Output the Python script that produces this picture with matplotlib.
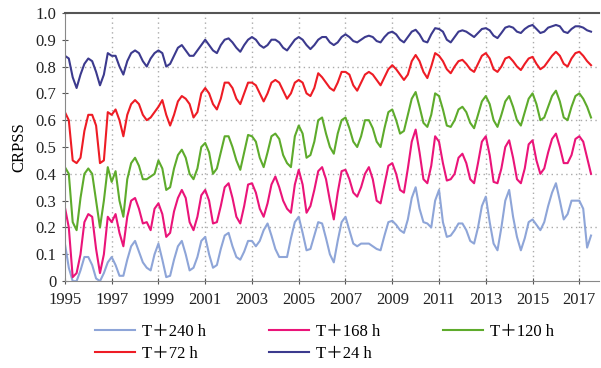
import matplotlib
matplotlib.use('Agg')
import matplotlib.pyplot as plt
import numpy as np
import pandas as pd
from matplotlib.ticker import FuncFormatter

# bimonthly values (Jan, Mar, May, Jul, Sep, Nov), 1995-01 .. 2017-07
t24 = [0.84, 0.83, 0.76, 0.72, 0.77, 0.81,
       0.83, 0.82, 0.78, 0.73, 0.77, 0.85,
       0.84, 0.84, 0.80, 0.77, 0.82, 0.85,
       0.86, 0.85, 0.82, 0.80, 0.83, 0.85,
       0.86, 0.85, 0.80, 0.81, 0.84, 0.87,
       0.88, 0.86, 0.84, 0.84, 0.86, 0.88,
       0.90, 0.88, 0.86, 0.85, 0.88, 0.90,
       0.905, 0.89, 0.87, 0.855, 0.88, 0.90,
       0.91, 0.90, 0.88, 0.87, 0.88, 0.90,
       0.90, 0.89, 0.87, 0.86, 0.88, 0.90,
       0.91, 0.90, 0.88, 0.865, 0.88, 0.90,
       0.91, 0.91, 0.89, 0.88, 0.89, 0.91,
       0.92, 0.91, 0.895, 0.89, 0.90, 0.91,
       0.915, 0.91, 0.895, 0.89, 0.91, 0.925,
       0.93, 0.92, 0.90, 0.89, 0.91, 0.93,
       0.937, 0.92, 0.895, 0.89, 0.92, 0.943,
       0.94, 0.93, 0.90, 0.89, 0.91, 0.93,
       0.935, 0.93, 0.92, 0.91, 0.925, 0.94,
       0.943, 0.935, 0.915, 0.906, 0.925, 0.945,
       0.95, 0.945, 0.93, 0.925, 0.94, 0.95,
       0.955, 0.94, 0.925, 0.93, 0.945, 0.95,
       0.955, 0.95, 0.93, 0.925, 0.94, 0.95,
       0.95, 0.945, 0.935, 0.93]

t72 = [0.63, 0.60, 0.45, 0.44, 0.46, 0.56,
       0.62, 0.62, 0.58, 0.44, 0.45, 0.63,
       0.62, 0.64, 0.60, 0.54, 0.62, 0.66,
       0.675, 0.66, 0.62, 0.60, 0.61, 0.63,
       0.65, 0.675, 0.62, 0.58, 0.62, 0.67,
       0.69, 0.68, 0.66, 0.61, 0.63, 0.70,
       0.72, 0.70, 0.66, 0.64, 0.68, 0.74,
       0.74, 0.72, 0.68, 0.66, 0.70, 0.74,
       0.74, 0.73, 0.70, 0.67, 0.70, 0.74,
       0.75, 0.74, 0.71, 0.68, 0.70, 0.74,
       0.75, 0.74, 0.70, 0.69, 0.72, 0.775,
       0.76, 0.74, 0.72, 0.71, 0.74, 0.78,
       0.78, 0.77, 0.73, 0.71, 0.74, 0.77,
       0.78, 0.77, 0.75, 0.73, 0.76, 0.79,
       0.805, 0.79, 0.77, 0.75, 0.77, 0.82,
       0.843, 0.82, 0.78, 0.757, 0.80, 0.85,
       0.84, 0.82, 0.79, 0.775, 0.80, 0.82,
       0.825, 0.81, 0.79, 0.78, 0.81, 0.84,
       0.85, 0.83, 0.79, 0.78, 0.80, 0.83,
       0.836, 0.82, 0.80, 0.787, 0.81, 0.83,
       0.836, 0.81, 0.79, 0.80, 0.82, 0.84,
       0.855, 0.84, 0.81, 0.80, 0.83, 0.85,
       0.855, 0.84, 0.82, 0.805]

t120 = [0.425, 0.40, 0.22, 0.19, 0.31, 0.40,
        0.42, 0.40, 0.30, 0.20, 0.30, 0.425,
        0.37, 0.41, 0.30, 0.24, 0.38, 0.44,
        0.46, 0.43, 0.38, 0.38, 0.39, 0.40,
        0.45, 0.42, 0.34, 0.35, 0.42, 0.47,
        0.49, 0.46, 0.40, 0.38, 0.42, 0.50,
        0.515, 0.48, 0.40, 0.42, 0.48, 0.54,
        0.54, 0.50, 0.45, 0.415, 0.48, 0.545,
        0.54, 0.52, 0.46, 0.425, 0.48, 0.54,
        0.55, 0.53, 0.47, 0.44, 0.425, 0.54,
        0.58, 0.55, 0.46, 0.47, 0.52, 0.60,
        0.61, 0.55, 0.50, 0.475, 0.55, 0.60,
        0.61, 0.57, 0.52, 0.50, 0.54, 0.60,
        0.60, 0.57, 0.52, 0.50, 0.57, 0.63,
        0.64, 0.60, 0.55, 0.56, 0.62, 0.68,
        0.705, 0.65, 0.59, 0.575, 0.62, 0.70,
        0.69, 0.64, 0.58, 0.575, 0.60, 0.64,
        0.65, 0.63, 0.59, 0.57, 0.62, 0.67,
        0.69, 0.66, 0.60, 0.575, 0.62, 0.67,
        0.69, 0.65, 0.60, 0.58, 0.63, 0.68,
        0.70, 0.66, 0.60, 0.61, 0.65, 0.69,
        0.71, 0.67, 0.61, 0.60, 0.65, 0.69,
        0.70, 0.68, 0.65, 0.61]

t168 = [0.275, 0.20, 0.015, 0.03, 0.10, 0.22,
        0.25, 0.24, 0.12, 0.03, 0.10, 0.24,
        0.22, 0.25, 0.18, 0.13, 0.24, 0.30,
        0.31, 0.27, 0.215, 0.22, 0.19, 0.27,
        0.29, 0.25, 0.165, 0.18, 0.26, 0.31,
        0.34, 0.31, 0.22, 0.19, 0.24, 0.32,
        0.34, 0.30, 0.215, 0.22, 0.28, 0.35,
        0.365, 0.31, 0.24, 0.215, 0.28, 0.36,
        0.365, 0.33, 0.27, 0.24, 0.29, 0.36,
        0.39, 0.35, 0.30, 0.27, 0.255, 0.36,
        0.415, 0.36, 0.255, 0.28, 0.34, 0.41,
        0.425, 0.38, 0.30, 0.23, 0.33, 0.41,
        0.415, 0.38, 0.33, 0.315, 0.35, 0.40,
        0.425, 0.38, 0.30, 0.29, 0.36, 0.43,
        0.44, 0.40, 0.34, 0.33, 0.42, 0.52,
        0.565, 0.48, 0.38, 0.365, 0.43, 0.54,
        0.52, 0.44, 0.375, 0.38, 0.40, 0.46,
        0.475, 0.44, 0.38, 0.365, 0.44, 0.52,
        0.54, 0.47, 0.37, 0.365, 0.42, 0.50,
        0.525, 0.46, 0.38, 0.365, 0.42, 0.51,
        0.525, 0.45, 0.40, 0.42, 0.48, 0.53,
        0.55, 0.50, 0.44, 0.44, 0.47, 0.53,
        0.54, 0.52, 0.46, 0.40]

t240 = [0.14, 0.05, 0.0, 0.0, 0.04, 0.09,
        0.09, 0.06, 0.01, 0.0, 0.03, 0.07,
        0.09, 0.06, 0.02, 0.02, 0.08, 0.13,
        0.15, 0.11, 0.07, 0.05, 0.04, 0.10,
        0.14, 0.08, 0.015, 0.02, 0.08, 0.13,
        0.15, 0.10, 0.04, 0.05, 0.09, 0.15,
        0.165, 0.10, 0.05, 0.06, 0.12, 0.17,
        0.18, 0.13, 0.09, 0.08, 0.11, 0.15,
        0.15, 0.13, 0.15, 0.19, 0.215, 0.17,
        0.12, 0.09, 0.09, 0.09, 0.16, 0.22,
        0.24, 0.18, 0.115, 0.12, 0.17, 0.22,
        0.215, 0.16, 0.10, 0.07, 0.15, 0.22,
        0.24, 0.19, 0.14, 0.13, 0.14, 0.14,
        0.14, 0.13, 0.12, 0.115, 0.17, 0.22,
        0.225, 0.21, 0.19, 0.18, 0.23, 0.31,
        0.35, 0.27, 0.22, 0.215, 0.20, 0.30,
        0.34, 0.22, 0.165, 0.17, 0.19, 0.215,
        0.215, 0.19, 0.15, 0.14, 0.20, 0.28,
        0.315, 0.22, 0.14, 0.115, 0.20, 0.30,
        0.34, 0.24, 0.165, 0.115, 0.16, 0.22,
        0.23, 0.21, 0.19, 0.22, 0.28, 0.33,
        0.365, 0.30, 0.23, 0.25, 0.30, 0.30,
        0.30, 0.27, 0.125, 0.17]

dates = pd.date_range('1995-01-01', periods=len(t24), freq='2MS')
years = dates.year + (dates.month - 1) / 12.0

series = [
    ('T\uff0b240 h', t240, '#8ea5d8'),
    ('T\uff0b168 h', t168, '#ea1479'),
    ('T\uff0b120 h', t120, '#5eab2c'),
    ('T\uff0b72 h', t72, '#ee1c25'),
    ('T\uff0b24 h', t24, '#3c3a8e'),
]

plt.rcParams['font.family'] = ['Liberation Serif', 'Noto Sans CJK SC']

fig = plt.figure(figsize=(6.01, 3.68), dpi=100)
ax = fig.add_axes([0.108, 0.236, 0.889, 0.729])

lines = {}
for name, vals, col in series:
    ln, = ax.plot(years, vals, color=col, lw=1.5, label=name)
    lines[name] = ln

ax.set_xlim(1995, 2017.85)
ax.set_ylim(0, 1.0)
ax.set_xticks(np.arange(1995, 2018, 2))
ax.set_yticks(np.arange(0, 1.01, 0.1))
ax.yaxis.set_major_formatter(FuncFormatter(lambda v, p: '0' if abs(v) < 1e-9 else f'{v:.1f}'))
ax.tick_params(direction='inout', length=5, width=0.8, colors='#555555', labelcolor='#222222', labelsize=12)
ax.tick_params(axis='x', pad=5)

for xv in np.arange(1997, 2018, 2):
    ax.axvline(xv, color='#aaaaaa', ls=(0, (1, 2.5)), lw=1, zorder=0)
for yv in [0.2, 0.4, 0.6, 0.8]:
    ax.axhline(yv, color='#aaaaaa', ls=(0, (1, 2.5)), lw=1, zorder=0)

ax.spines['top'].set_color('#555555')
ax.spines['top'].set_linewidth(1.5)
ax.spines['left'].set_color('#888888')
ax.spines['bottom'].set_color('#888888')
ax.spines['right'].set_visible(False)

ax.set_ylabel('CRPSS', fontsize=12, labelpad=6)

order = ['T\uff0b240 h', 'T\uff0b72 h', 'T\uff0b168 h', 'T\uff0b24 h', 'T\uff0b120 h']
fig.legend([lines[k] for k in order], order, ncol=3, loc='center',
           bbox_to_anchor=(0.54, 0.068), frameon=False, fontsize=12,
           handlelength=2.4, columnspacing=3.8, labelspacing=0.35, handletextpad=0.4)

fig.savefig('out.png', dpi=100)
